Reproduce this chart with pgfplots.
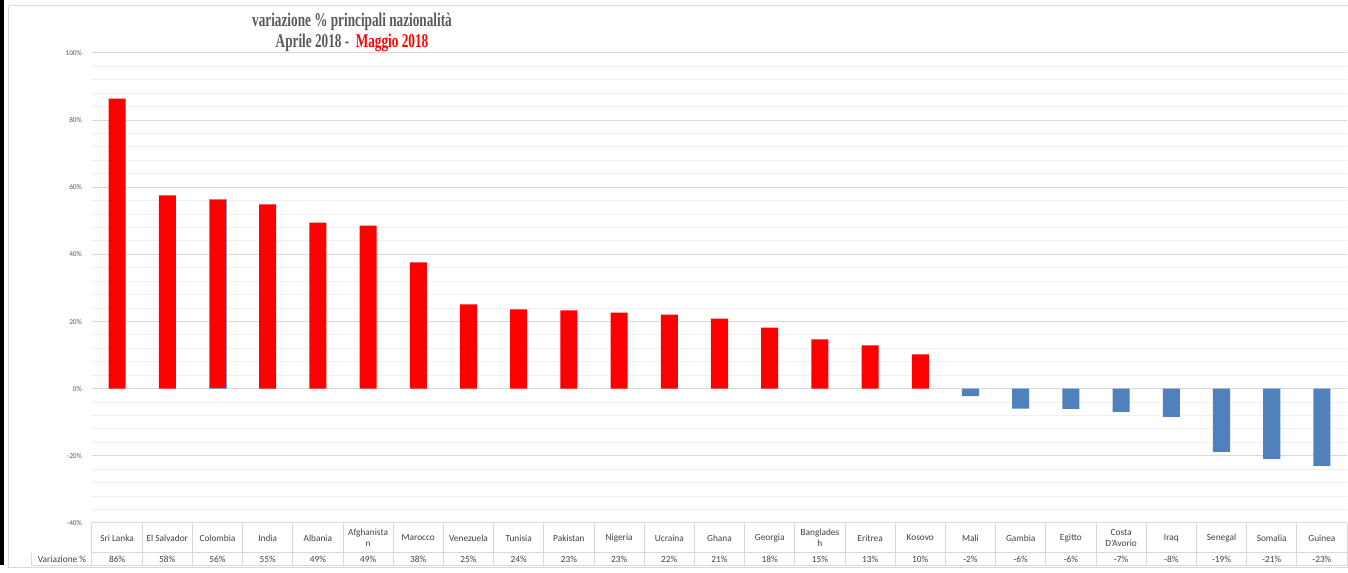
\documentclass[border=0pt]{standalone}
\usepackage{fontspec}
\setmainfont{Carlito}
\newfontfamily\titlefont[FakeStretch=0.68]{Liberation Serif}
\usepackage{pgfplots}
\pgfplotsset{compat=1.18}

\definecolor{barred}{HTML}{FF0000}
\definecolor{barblue}{HTML}{4F81BD}
\definecolor{gridmaj}{HTML}{D9D9D9}
\definecolor{gridmin}{HTML}{F0F0F0}
\definecolor{txt}{HTML}{404040}
\definecolor{titlegray}{HTML}{595959}

\begin{document}
\begin{tikzpicture}
\begin{axis}[
    at={(0,0)}, anchor=south west,
    scale only axis, width=941.25pt, height=352.5pt,
    xmin=-0.5, xmax=24.5, ymin=-40, ymax=100,
    ybar, bar width=0.34,
    ytick={-40,-20,...,100}, minor y tick num=4,
    ymajorgrids, yminorgrids,
    major grid style={gridmaj, line width=0.75pt},
    minor grid style={gridmin, line width=0.75pt},
    axis line style={draw=none},
    major tick length=0pt, minor tick length=0pt,
    xtick={0,...,24},
    xticklabels={Sri Lanka, El Salvador, Colombia, India, Albania, Afghanista\\n,
        Marocco, Venezuela, Tunisia, Pakistan, Nigeria, Ucraina, Ghana, Georgia,
        Banglades\\h, Eritrea, Kosovo, Mali, Gambia, Egitto, Costa\\D'Avorio,
        Iraq, Senegal, Somalia, Guinea},
    xticklabel style={anchor=center, yshift=-11.25pt, align=center,
        font=\fontsize{7}{8}\selectfont, text=txt},
    yticklabel={\pgfmathprintnumber{\tick}\%},
    yticklabel style={font=\fontsize{5.5}{6}\selectfont, text=titlegray, xshift=-4pt},
    /pgf/number format/assume math mode=true,
    clip=false,
]
% positive values (red)
\addplot[bar shift=0pt, fill=barred, draw=none] coordinates {
    (0,86.4) (1,57.6) (3,54.9) (4,49.5) (5,48.6) (6,37.6) (7,25.1)
    (8,23.6) (9,23.3) (10,22.7) (11,22.1) (12,20.9) (13,18.2) (14,14.7)
    (15,12.9) (16,10.2)
};
% Colombia, selected in the original
\addplot[bar shift=0pt, fill=barred, draw=barblue!80, line width=0.6pt] coordinates {
    (2,56.3)
};
% negative values (blue)
\addplot[bar shift=0pt, fill=barblue, draw=none] coordinates {
    (17,-2.2) (18,-5.9) (19,-6.0) (20,-6.9) (21,-8.4) (22,-18.8)
    (23,-20.9) (24,-23.0)
};
\end{axis}

% frame, data table and title in pixel coordinates of the reference
\begin{scope}[shift={(-69pt,392.25pt)}, x=0.75pt, y=-0.75pt]
  \fill[black] (0,0) rectangle (4,565);
  \draw[gridmaj, line width=0.75pt] (9,6) -- (1348,6);
  \draw[gridmaj, line width=0.75pt] (9,6) -- (9,568) -- (1348,568);
  \draw[gridmaj, line width=0.75pt] (92,553) -- (1347,553);
  \draw[gridmaj, line width=0.75pt] (32,566) -- (1347,566);
  \draw[gridmaj, line width=0.75pt] (32,553) -- (32,566);
  \foreach \k in {0,...,25}
    \draw[gridmaj, line width=0.75pt] ({92+50.2*\k},523) -- ({92+50.2*\k},566);
  \node[font=\fontsize{7}{8}\selectfont, text=txt] at (62,559.5) {Variazione \%};
  \foreach \v [count=\i from 0] in {86\%,58\%,56\%,55\%,49\%,49\%,38\%,25\%,24\%,
      23\%,23\%,22\%,21\%,18\%,15\%,13\%,10\%,-2\%,-6\%,-6\%,-7\%,-8\%,-19\%,-21\%,-23\%}
    \node[font=\fontsize{7}{8}\selectfont, text=txt] at ({117.1+50.2*\i},559.5) {\v};
  \node[font=\titlefont\bfseries\fontsize{14.6}{15.2}\selectfont, text=titlegray, align=center]
    at (352,32.5) {variazione \% principali nazionalità\\Aprile 2018 -\ \ \textcolor{barred}{Maggio 2018}};
  \pgfresetboundingbox
  \useasboundingbox (0,0) rectangle (1348,573);
\end{scope}
\end{tikzpicture}
\end{document}
